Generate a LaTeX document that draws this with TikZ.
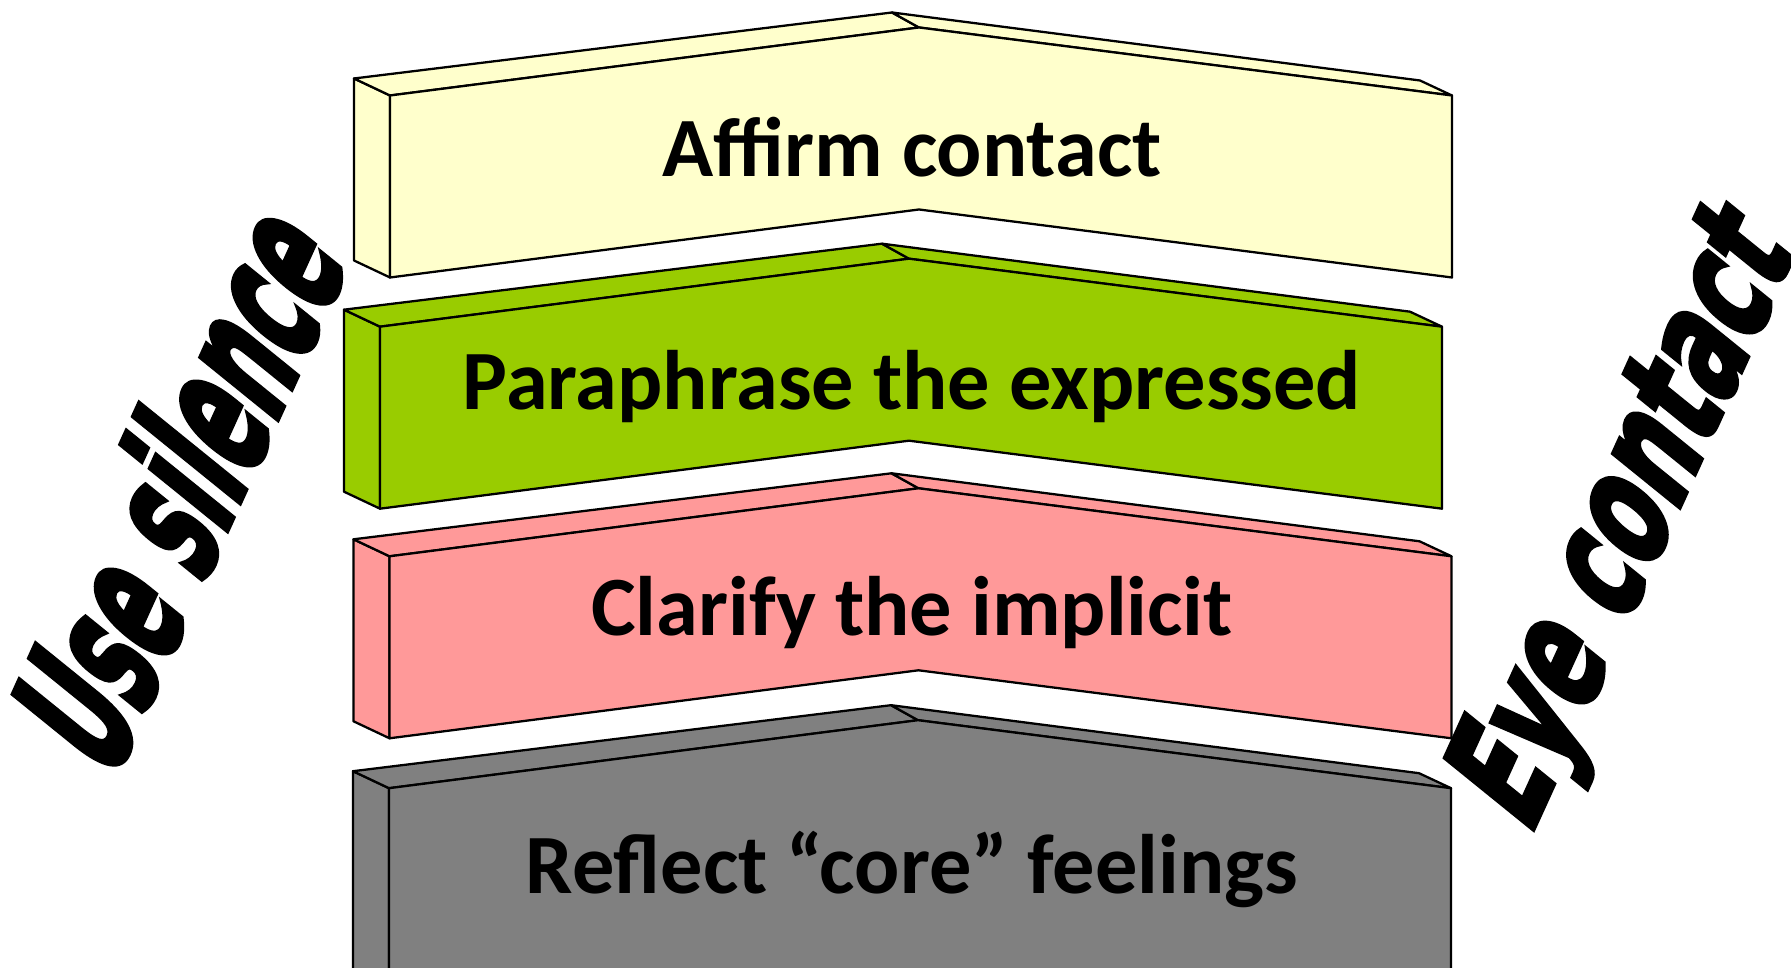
\documentclass[tikz,border=0pt]{standalone}
\usepackage{fontspec}
\setmainfont{Carlito}
\newfontfamily\sidefont{DejaVu Sans Condensed}[FakeBold=3.5]
\usetikzlibrary{positioning}
\definecolor{crema}{HTML}{FFFFCC}
\definecolor{lima}{HTML}{99CC00}
\definecolor{rosa}{HTML}{FF9999}
\definecolor{plomo}{HTML}{808080}

\begin{document}
\begin{tikzpicture}[x=0.01cm,y=0.01cm,
        cara/.style={draw,line width=0.65pt,line join=round},
        lbl/.style={font=\fontsize{24}{28}\selectfont\bfseries,anchor=base},
        lado/.style={font=\sidefont\bfseries\fontsize{40}{48}\selectfont,anchor=base west,transform shape,inner sep=0pt}]
        \useasboundingbox (0,0) rectangle (1791,-968);
        \clip (0,0) rectangle (1791,-968);
        % four bent slabs, top to bottom (the last one runs off the page)
        \foreach \x/\y/\h/\c in {390/95.5/182/crema,380/326.7/182/lima,389.5/556.3/182/rosa,389/788.2/300/plomo}{
          \begin{scope}[shift={(\x,-\y)}]
            \draw[cara,fill=\c] (0,0) -- (-36,17) -- (-36,-\h+17) -- (0,-\h) -- cycle;
            \draw[cara,fill=\c] (0,0) -- (-36,17) -- (502,83) -- (529,68) -- cycle;
            \draw[cara,fill=\c] (529,68) -- (502,83) -- (1030,15) -- (1062,0) -- cycle;
            \draw[cara,fill=\c] (0,0) -- (529,68) -- (1062,0) -- (1062,-\h) -- (529,-\h+68) -- (0,-\h) -- cycle;
          \end{scope}
        }
        \node[lbl] (affirm) at (912,-176.7) {Affirm contact};
        \node[lbl] (para) at (912,-409.3) {Paraphrase the expressed};
        \node[lbl] (clar) at (912,-636) {Clarify the implicit};
        \node[lbl] (refl) at (912,-893.3) {Reflect “core” feelings};
        % slanted side words
        \begin{scope}[shift={(111,-785)},rotate=51,yslant=0.26]
          \node[lado,xscale=0.685,yscale=1.27] (silencio) at (0,0) {Use silence};
        \end{scope}
        \begin{scope}[shift={(1529,-838)},rotate=51,yslant=0.26]
          \node[lado,xscale=0.745,yscale=1.1] (mirada) at (0,0) {Eye contact};
        \end{scope}
      \end{tikzpicture}
\end{document}
